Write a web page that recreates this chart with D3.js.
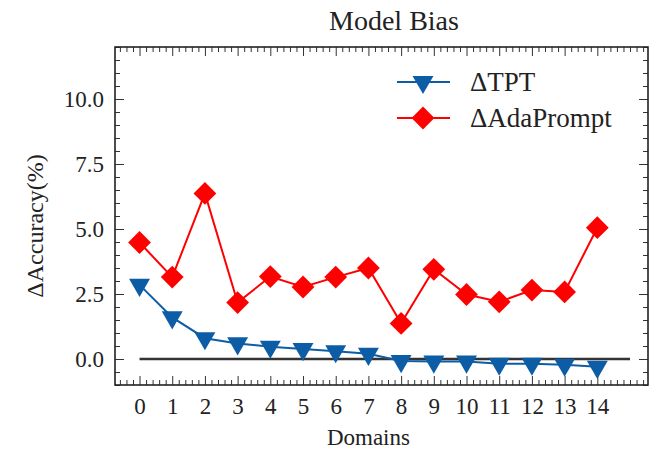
<!DOCTYPE html>
<html>
<head>
<meta charset="utf-8">
<script src="https://cdn.jsdelivr.net/npm/d3@7"></script>
<style>
  body { margin: 0; background: #fff; }
  text { font-family: "Liberation Serif", "DejaVu Serif", serif; fill: #222; }
</style>
</head>
<body>
<script>
const domains = [0, 1, 2, 3, 4, 5, 6, 7, 8, 9, 10, 11, 12, 13, 14];
const tptValues = [2.85, 1.6, 0.8, 0.6, 0.47, 0.38, 0.3, 0.2, -0.08, -0.1, -0.1, -0.18, -0.18, -0.22, -0.3];
const adaValues = [4.48, 3.15, 6.37, 2.17, 3.17, 2.77, 3.15, 3.5, 1.37, 3.45, 2.48, 2.2, 2.65, 2.58, 5.05];
const yTicks = [0, 2.5, 5, 7.5, 10];
const seriesNames = ["\u0394TPT", "\u0394AdaPrompt"];

const w = 650, h = 451;
const m = { left: 115, top: 47, right: 2, bottom: 66 };
const iw = w - m.left - m.right, ih = h - m.top - m.bottom;

const svg = d3.select("body").append("svg")
  .attr("width", w)
  .attr("height", h);

const x = d3.scaleLinear().domain([-0.75, 15.55]).range([0, iw]);
const y = d3.scaleLinear().domain([-1, 12]).range([ih, 0]);

const g = svg.append("g").attr("transform", `translate(${m.left},${m.top})`);

// minor ticks
const xMinor = d3.range(-0.6, 15.5, 0.2).map(v => +v.toFixed(1)).filter(v => !(Number.isInteger(v) && v >= 0 && v <= 14));
const yMinor = d3.range(-1, 12.01, 0.5).filter(v => !yTicks.includes(v));

g.append("g").attr("class", "xaxis").attr("transform", `translate(0,${ih})`)
  .call(d3.axisBottom(x).tickValues(domains).tickSizeInner(-9).tickSizeOuter(0).tickPadding(13).tickFormat(d3.format("d")));
g.append("g").attr("transform", `translate(0,${ih})`)
  .call(d3.axisBottom(x).tickValues(xMinor).tickSizeInner(-5).tickSizeOuter(0).tickFormat(""));
g.append("g")
  .call(d3.axisTop(x).tickValues(domains).tickSizeInner(-9).tickSizeOuter(0).tickFormat(""));
g.append("g")
  .call(d3.axisTop(x).tickValues(xMinor).tickSizeInner(-5).tickSizeOuter(0).tickFormat(""));

g.append("g").attr("class", "yaxis")
  .call(d3.axisLeft(y).tickValues(yTicks).tickSizeInner(-9).tickSizeOuter(0).tickPadding(11).tickFormat(d3.format(".1f")));
g.append("g")
  .call(d3.axisLeft(y).tickValues(yMinor).tickSizeInner(-5).tickSizeOuter(0).tickFormat(""));
g.append("g").attr("transform", `translate(${iw},0)`)
  .call(d3.axisRight(y).tickValues(yTicks).tickSizeInner(-9).tickSizeOuter(0).tickFormat(""));
g.append("g").attr("transform", `translate(${iw},0)`)
  .call(d3.axisRight(y).tickValues(yMinor).tickSizeInner(-5).tickSizeOuter(0).tickFormat(""));

g.selectAll(".domain").remove();
g.selectAll(".tick line").attr("stroke", "#333").attr("stroke-width", 1);
g.selectAll(".xaxis text, .yaxis text").style("font-size", "23px").attr("fill", "#222");

g.append("rect")
  .attr("width", iw).attr("height", ih)
  .attr("fill", "none").attr("stroke", "#222").attr("stroke-width", 1.6);

// zero line
g.append("line")
  .attr("x1", x(0)).attr("x2", x(15))
  .attr("y1", y(0)).attr("y2", y(0))
  .attr("stroke", "#333").attr("stroke-width", 2.5);

const blue = "#0C5DA5", red = "#FF0000";
const line = d3.line().x((d, i) => x(domains[i])).y(d => y(d));

const tri = d3.symbol().type(d3.symbolTriangle).size(190);
const dia = d3.symbol().type(d3.symbolSquare).size(260);

g.append("path").datum(tptValues).attr("d", line)
  .attr("fill", "none").attr("stroke", blue).attr("stroke-width", 2);
g.selectAll(".tpt").data(tptValues).enter().append("path")
  .attr("class", "tpt")
  .attr("d", tri)
  .attr("transform", (d, i) => `translate(${x(domains[i])},${y(d)}) rotate(180)`)
  .attr("fill", blue);

g.append("path").datum(adaValues).attr("d", line)
  .attr("fill", "none").attr("stroke", red).attr("stroke-width", 2);
g.selectAll(".ada").data(adaValues).enter().append("path")
  .attr("class", "ada")
  .attr("d", dia)
  .attr("transform", (d, i) => `translate(${x(domains[i])},${y(d)}) rotate(45)`)
  .attr("fill", red);

// legend
const legend = svg.append("g");
[[blue, tri, 180, 82], [red, dia, 45, 118]].forEach(([c, sym, rot, ly], i) => {
  legend.append("line").attr("x1", 397).attr("x2", 450).attr("y1", ly).attr("y2", ly)
    .attr("stroke", c).attr("stroke-width", 2);
  legend.append("path").attr("d", sym)
    .attr("transform", `translate(423,${ly}) rotate(${rot})`).attr("fill", c);
  legend.append("text").attr("x", 470).attr("y", ly + 9)
    .style("font-size", "27px").text(seriesNames[i]);
});

svg.append("text").attr("x", 394).attr("y", 30)
  .attr("text-anchor", "middle").style("font-size", "28px").text("Model Bias");

svg.append("text").attr("x", x(7) + m.left).attr("y", 445)
  .attr("text-anchor", "middle").style("font-size", "23px").text("Domains");

svg.append("text")
  .attr("transform", `translate(43,226) rotate(-90)`)
  .attr("text-anchor", "middle").style("font-size", "24px").text("\u0394Accuracy(%)");
</script>
</body>
</html>
